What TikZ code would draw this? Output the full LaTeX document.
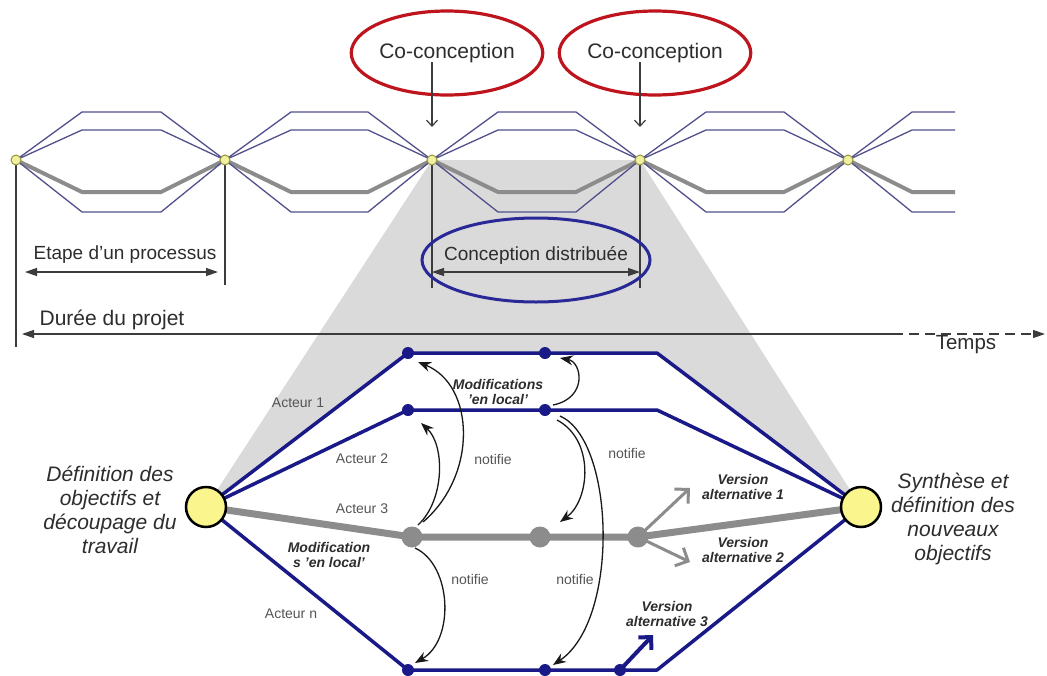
\documentclass[tikz,border=0pt]{standalone}
\usepackage{fontspec}
\setmainfont{Liberation Sans}
\usetikzlibrary{arrows.meta,calc,shapes.geometric}
\pgfdeclarelayer{back}
\pgfdeclarelayer{background}
\pgfsetlayers{back,background,main}
\definecolor{slate}{RGB}{80,80,140}
\definecolor{barg}{RGB}{140,140,140}
\definecolor{navy}{RGB}{25,25,135}
\definecolor{redell}{RGB}{190,20,30}
\definecolor{blueell}{RGB}{40,40,150}
\definecolor{conegray}{RGB}{218,218,218}
\definecolor{nfill}{RGB}{240,240,160}
\definecolor{nborder}{RGB}{150,150,60}
\definecolor{bigfill}{RGB}{250,245,140}
\definecolor{txt}{RGB}{45,45,45}
\definecolor{ltxt}{RGB}{85,85,85}
\definecolor{dimc}{RGB}{60,60,60}
\begin{document}
\begin{tikzpicture}[x=1pt,y=-1pt,
  tnode/.style={circle,fill=nfill,draw=nborder,line width=1pt,minimum size=10pt,inner sep=0pt},
  bignode/.style={circle,fill=bigfill,draw=black,line width=2.5pt,minimum size=40pt,inner sep=0pt},
  bdot/.style={circle,fill=navy,minimum size=12pt,inner sep=0pt},
  gdot/.style={circle,fill=barg,minimum size=21pt,inner sep=0pt},
  segline/.style={draw=slate,line width=1.3pt},
  segbar/.style={draw=barg,line width=4pt},
  bluel/.style={draw=navy,line width=3.5pt,line join=round},
  grayl/.style={draw=barg,line width=7pt},
  dimline/.style={draw=dimc,line width=1.2pt},
  dimarrow/.style={draw=dimc,line width=1.2pt,{Triangle[length=12pt,width=8pt]}-{Triangle[length=12pt,width=8pt]}},
  ccarrow/.style={draw=dimc,line width=1.2pt,-{Straight Barb[length=6pt,width=11pt]}},
  curv/.style={draw=black!90,line width=1.3pt,-{Stealth[length=13pt,width=10pt]}},
  grayarrow/.style={draw=barg,line width=3pt,-{Straight Barb[length=10pt,width=20pt]}},
  bluearrow/.style={draw=navy,line width=4pt,-{Straight Barb[length=9pt,width=18pt]}},
  ttext/.style={text=txt,inner sep=0pt,font=\fontsize{20}{24}\selectfont},
  redellipse/.style={ellipse,draw=redell,line width=3.2pt,minimum width=170pt,minimum height=84pt,inner sep=0pt,text=txt,font=\fontsize{21}{24}\selectfont},
  bigtext/.style={text=txt,align=center,inner sep=0pt,font=\fontsize{21}{24}\selectfont\itshape},
  small/.style={text=ltxt,inner sep=0pt,font=\fontsize{14}{16}\selectfont},
  bismall/.style={text=txt,align=center,inner sep=0pt,font=\fontsize{14}{15}\selectfont\bfseries\itshape}
]
\useasboundingbox (0,0) rectangle (1047,675);

% top nodes
\node[tnode] (n1) at (16,160) {};
\node[tnode] (n2) at (225,160) {};
\node[tnode] (n3) at (432,160) {};
\node[tnode] (n4) at (640,160) {};
\node[tnode] (n5) at (848,160) {};

% bottom nodes
\node[bignode] (L) at (206,507) {};
\node[bignode] (R) at (861,507) {};
\node[bdot] (t1) at (408,353) {};
\node[bdot] (t2) at (545,353) {};
\node[bdot] (s1) at (408,410) {};
\node[bdot] (s2) at (545,410) {};
\node[bdot] (b1) at (408,670) {};
\node[bdot] (b2) at (545,670) {};
\node[bdot] (b3) at (620,670) {};
\node[gdot] (g1) at (412,537) {};
\node[gdot] (g2) at (540,537) {};
\node[gdot] (g3) at (638,537) {};
\coordinate (tc) at (657,353);
\coordinate (sc) at (657,410);
\coordinate (bc) at (657,670);

% back layer: white page, cone, white hexagon
\begin{pgfonlayer}{back}
\fill[white] (0,0) rectangle (1047,675);
\fill[conegray] (n3.center) -- (n4.center) -- (R.center) -- (L.center) -- cycle;
\fill[white] (L.center) -- (t1.center) -- (tc) -- (R.center) -- (bc) -- (b1.center) -- cycle;
\end{pgfonlayer}

% background layer: lines
\begin{pgfonlayer}{background}
\foreach \a/\b in {n1/n2,n2/n3,n3/n4,n4/n5}{
  \draw[segline] (\a.center) -- ($(\a)+(66,-48)$) -- ($(\b)+(-64,-48)$) -- (\b.center);
  \draw[segline] (\a.center) -- ($(\a)+(66,-30)$) -- ($(\b)+(-64,-30)$) -- (\b.center);
  \draw[segbar] (\a.center) -- ($(\a)+(66,32)$) -- ($(\b)+(-64,32)$) -- (\b.center);
  \draw[segline] (\a.center) -- ($(\a)+(66,52)$) -- ($(\b)+(-64,52)$) -- (\b.center);
}
\draw[segline] (n5.center) -- ($(n5)+(64,-48)$) -- ($(n5)+(107,-48)$);
\draw[segline] (n5.center) -- ($(n5)+(64,-30)$) -- ($(n5)+(107,-30)$);
\draw[segbar] (n5.center) -- ($(n5)+(64,32)$) -- ($(n5)+(107,32)$);
\draw[segline] (n5.center) -- ($(n5)+(64,52)$) -- ($(n5)+(107,52)$);

% vertical reference lines
\draw[dimline] (n1.center) -- ($(n1)+(0,187)$);
\draw[dimline] (n2.center) -- ($(n2)+(0,125)$);
\draw[dimline] (n3.center) -- ($(n3)+(0,128)$);
\draw[dimline] (n4.center) -- ($(n4)+(0,128)$);

% bottom diagram lines
\draw[grayl] (L.center) -- (g1.center) -- (g2.center) -- (g3.center) -- (R.center);
\draw[bluel] (L.center) -- (t1.center) -- (t2.center) -- (tc) -- (R.center);
\draw[bluel] (L.center) -- (s1.center) -- (s2.center) -- (sc) -- (R.center);
\draw[bluel] (L.center) -- (b1.center) -- (b2.center) -- (b3.center) -- (bc) -- (R.center);
\end{pgfonlayer}

% dimension arrows
\draw[dimarrow] ($(n1)+(9,112)$) -- ($(n2)+(-7,112)$);
\draw[dimarrow] ($(n3)+(0,112)$) -- ($(n4)+(0,112)$);
\coordinate (dl) at (22,334);
\coordinate (dm) at (893,334);
\coordinate (dr) at (1045,334);
\draw[draw=dimc,line width=1.2pt,{Triangle[length=12pt,width=8pt]}-] (dl) -- (dm);
\draw[draw=dimc,line width=1.2pt,dash pattern=on 10pt off 6pt,-{Triangle[length=12pt,width=8pt]}] (dm) -- (dr);

% top labels
\node[ttext,font=\fontsize{19}{22}\selectfont] (etape) at (125,255) {Etape d'un processus};
\node[ttext,font=\fontsize{21}{24}\selectfont] (duree) at (112,320) {Durée du projet};
\node[ttext,font=\fontsize{20.5}{24}\selectfont] (temps) at (966,345) {Temps};
\node[redellipse] (cc1) at (447,53) {Co-conception};
\node[redellipse] (cc2) at (655,53) {Co-conception};
\draw[ccarrow] ($(n3)+(0,-98)$) -- ($(n3)+(0,-33)$);
\draw[ccarrow] ($(n4)+(0,-98)$) -- ($(n4)+(0,-33)$);
\node[ellipse,draw=blueell,line width=3pt,minimum width=228pt,minimum height=84pt,inner sep=0pt] (cd) at (536,260) {};
\node[ttext,font=\fontsize{19}{22}\selectfont] (cdt) at (536,255) {Conception distribuée};

% curved notification arrows
\draw[curv] ($(g1)+(11,-15)$) .. controls (478,475) and (475,385) .. ($(t1)+(10,9)$);
\draw[curv] ($(g1)+(6,-12)$) .. controls (445,500) and (445,445) .. ($(s1)+(13,13)$);
\draw[curv] ($(s2)+(8,-5)$) .. controls (588,398) and (582,362) .. ($(t2)+(15,5)$);
\draw[curv] ($(s2)+(12,10)$) .. controls (595,440) and (590,500) .. ($(g2)+(20,-15)$);
\draw[curv] ($(s2)+(15,6)$) .. controls (615,440) and (620,620) .. ($(b2)+(8,-5)$);
\draw[curv] ($(g1)+(3,11)$) .. controls (452,565) and (455,640) .. ($(b1)+(7,-7)$);

% version arrows
\draw[grayarrow] (g3.center) -- ($(g3)+(52,-49)$);
\draw[grayarrow] (g3.center) -- ($(g3)+(52,25)$);
\draw[bluearrow] (b3.center) -- ($(b3)+(33,-35)$);

% bottom labels
\node[bigtext] (deftxt) at (110,510) {Définition des\\objectifs et\\découpage du\\travail};
\node[bigtext] (syntxt) at (953,519) {Synthèse et\\définition des\\nouveaux\\objectifs};
\node[small] (a1) at (298,403) {Acteur 1};
\node[small] (a2) at (362,459) {Acteur 2};
\node[small] (a3) at (362,509) {Acteur 3};
\node[small] (an) at (291,614) {Acteur n};
\node[small] (nt1) at (493,459) {notifie};
\node[small] (nt2) at (627,453) {notifie};
\node[small] (nt3) at (470,579) {notifie};
\node[small] (nt4) at (575,579) {notifie};
\node[bismall] (mod1) at (498,392) {Modifications\\'en local'};
\node[bismall] (mod2) at (329,555) {Modification\\s 'en local'};
\node[bismall] (v1) at (743,487) {Version\\alternative 1};
\node[bismall] (v2) at (743,550) {Version\\alternative 2};
\node[bismall] (v3) at (667,614) {Version\\alternative 3};
\end{tikzpicture}
\end{document}
